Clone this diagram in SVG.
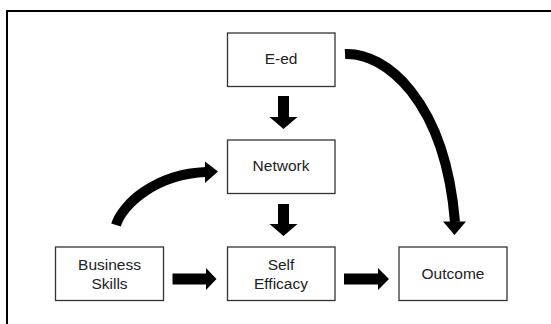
<svg xmlns="http://www.w3.org/2000/svg" width="551" height="324" viewBox="0 0 551 324">
<style>
.box{fill:#fff;stroke:#333;stroke-width:1.3}
.lbl{font-family:"Liberation Sans",Arial,sans-serif;font-size:15.5px;fill:#222;text-anchor:middle}
.curve{fill:none;stroke:#000;stroke-width:10}
.head{fill:#000}
</style>
<rect x="0" y="0" width="551" height="324" fill="#fff"/>
<rect x="7" y="11" width="600" height="400" fill="none" stroke="#000" stroke-width="2"/>
<g id="connectors">
<polygon class="head" points="278,96 289,96 289,117 297.5,117 283.5,129 269.5,117 278,117"/>
<polygon class="head" points="278,204 289,204 289,224 297.5,224 283.5,236 269.5,224 278,224"/>
<polygon class="head" points="172.5,273.5 206,273.5 206,268 216.5,279 206,290 206,284.5 172.5,284.5"/>
<polygon class="head" points="344,273.5 378,273.5 378,268 389,279 378,290 378,284.5 344,284.5"/>
<path class="curve" d="M116,225 C122,205 155,174 206,172"/>
<polygon class="head" points="205,161.5 218,171.5 205,183"/>
<path class="curve" d="M345,54 C385,52 445,100 455,222"/>
<polygon class="head" points="443,221.5 466,221.5 454.5,235"/>
</g>
<g id="node-eed">
<rect class="box" x="227.5" y="33" width="107.5" height="53.5"/>
<text class="lbl" x="281" y="64">E-ed</text>
</g>
<g id="node-network">
<rect class="box" x="227.5" y="140" width="107.5" height="53.5"/>
<text class="lbl" x="281" y="171">Network</text>
</g>
<g id="node-business">
<rect class="box" x="55.5" y="247" width="108" height="53.5"/>
<text class="lbl" x="109.5" y="269.5">Business</text>
<text class="lbl" x="109.5" y="289">Skills</text>
</g>
<g id="node-self">
<rect class="box" x="227.5" y="247" width="107.5" height="53.5"/>
<text class="lbl" x="281" y="269.5">Self</text>
<text class="lbl" x="281" y="289">Efficacy</text>
</g>
<g id="node-outcome">
<rect class="box" x="399" y="247" width="108" height="53.5"/>
<text class="lbl" x="453" y="278.5">Outcome</text>
</g>
</svg>
